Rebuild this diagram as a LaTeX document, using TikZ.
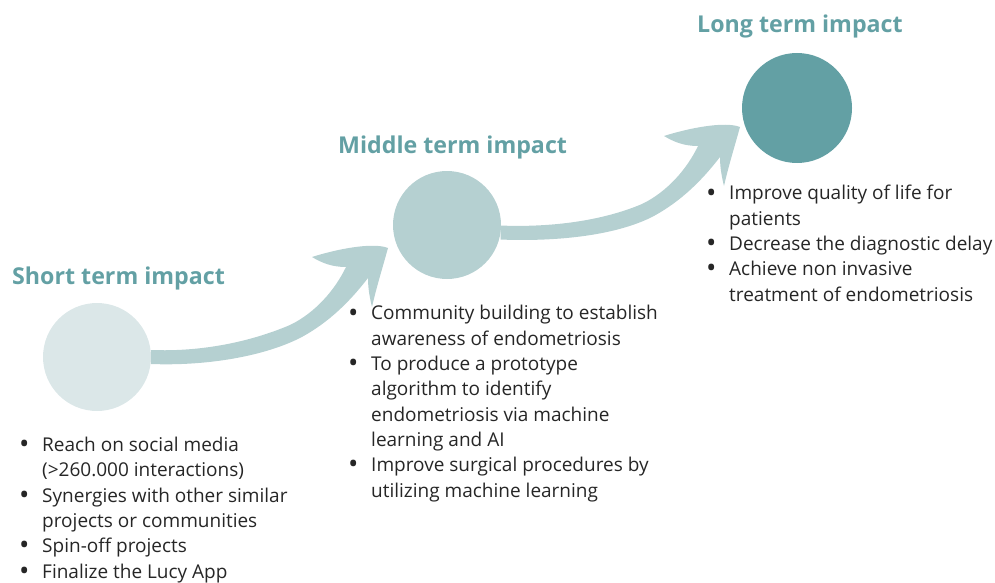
\documentclass[tikz,border=0pt]{standalone}
\usepackage{fontspec}
\setmainfont{Open Sans}
\usepackage{tikz}
\usetikzlibrary{calc,positioning}
\definecolor{tealdeep}{RGB}{99,160,164}
\definecolor{tealmist}{RGB}{181,208,209}
\definecolor{tealpale}{RGB}{219,231,232}
\definecolor{inkgray}{RGB}{38,38,38}

% bullet and hanging indent for the impact lists
\newcommand{\bitem}{\makebox[23pt][l]{\raisebox{-0.12em}{\scalebox{1.45}{\textbullet}}}}
\newcommand{\bcont}{\hspace*{23pt}}

% brush-style arrow: #1 start on a circle, #2 tip of the head
\newcommand{\impactarrow}[2]{%
  \fill[tealmist] ($(#1)+(0,-7)$) .. controls +(50,2) and +(-40,17) .. ($(#2)+(-98,77)$)
    .. controls +(25,-12) and +(-11,23) .. ($(#2)+(-42,19)$)
    .. controls +(-14,0) and +(10,6) .. ($(#2)+(-76,9)$)
    .. controls +(25,-8) and +(-15,-6) .. (#2)
    .. controls +(-5,18) and +(4,-18) .. ($(#2)+(-16,59)$)
    .. controls +(-3,-12) and +(0,8) .. ($(#2)+(-20,30)$)
    .. controls +(-17,22) and +(30,-16) .. ($(#2)+(-88,90)$)
    .. controls +(-40,20) and +(50,2) .. ($(#1)+(0,7)$) -- cycle;}

\begin{document}
\begin{tikzpicture}[x=1pt, y=-1pt,
    dot/.style={circle, minimum size=108pt, inner sep=0pt},
    heading/.style={anchor=base west, inner sep=0pt,
                font=\fontsize{23.2}{28}\selectfont\bfseries, text=tealdeep},
    bullets/.style={anchor=base west, inner sep=0pt, align=left,
                font=\fontsize{19}{25.3}\selectfont, text=inkgray}
]
\useasboundingbox (0,0) rectangle (995,583);

% stages
\node[dot, fill=tealpale] (c1) at (97,357) {};
\node[dot, fill=tealmist] (c2) at (447,225) {};
\node[dot, fill=tealdeep, minimum size=110pt] (c3) at (797,108) {};

\node[heading] (t1) at (12,284) {Short term impact};
\node[heading] (t2) at (338,153) {Middle term impact};
\node[heading] (t3) at (697,33) {Long term impact};

% arrows between the stages
\coordinate (tip1) at (388,248);
\coordinate (tip2) at (740,127);
\impactarrow{c1.east}{tip1}
\impactarrow{c2.-8}{tip2}

% lists are anchored on the baseline of their last line
\node[bullets] (l1) at (19,578) {%
  \bitem Reach on social media\\
  \bcont (>260.000 interactions)\\
  \bitem Synergies with other similar\\
  \bcont projects or communities\\
  \bitem Spin-off projects\\
  \bitem Finalize the Lucy App};

\node[bullets] (l2) at (348,497) {%
  \bitem Community building to establish\\
  \bcont awareness of endometriosis\\
  \bitem To produce a prototype\\
  \bcont algorithm to identify\\
  \bcont endometriosis via machine\\
  \bcont learning and AI\\
  \bitem Improve surgical procedures by\\
  \bcont utilizing machine learning};

\node[bullets] (l3) at (706,301) {%
  \bitem Improve quality of life for\\
  \bcont patients\\
  \bitem Decrease the diagnostic delay\\
  \bitem Achieve non invasive\\
  \bcont treatment of endometriosis};
\end{tikzpicture}
\end{document}
